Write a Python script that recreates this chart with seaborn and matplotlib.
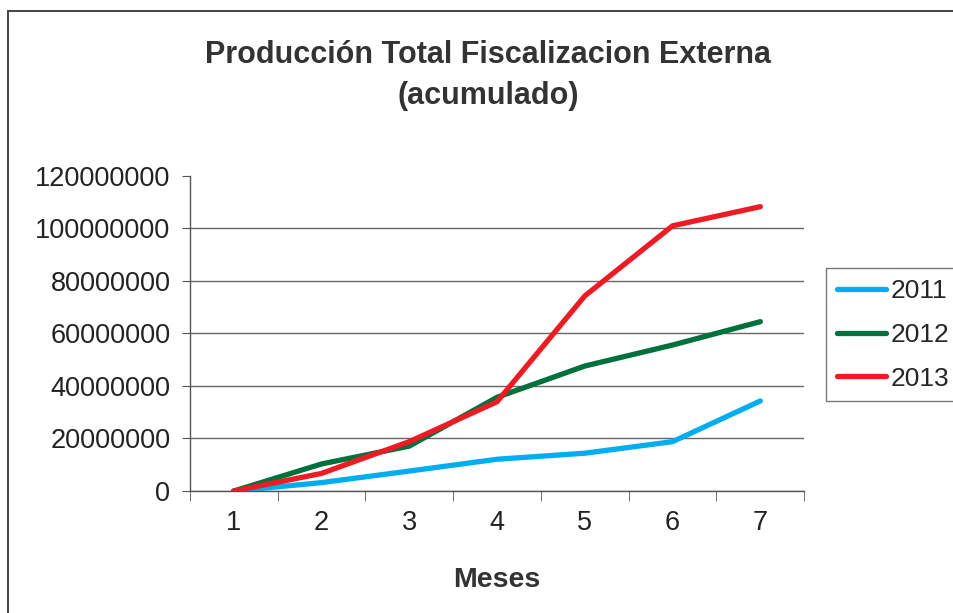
import pandas as pd
import seaborn as sns
import matplotlib.pyplot as plt
from matplotlib.patches import Rectangle

# Datos (acumulado por mes)
meses = [1, 2, 3, 4, 5, 6, 7]
prod_2011 = [0, 3200000, 7600000, 12100000, 14400000, 18800000, 34300000]
prod_2012 = [0, 10300000, 17100000, 35700000, 47600000, 55600000, 64500000]
prod_2013 = [0, 6700000, 18800000, 34000000, 74300000, 101000000, 108300000]
anios = ['2011', '2012', '2013']
colores = ['#00AEEF', '#00703C', '#ED1C24']
yticks = [0, 20000000, 40000000, 60000000, 80000000, 100000000, 120000000]

df = pd.DataFrame({
    'Meses': meses * 3,
    'Valor': prod_2011 + prod_2012 + prod_2013,
    'Anio': [a for a in anios for _ in meses],
})

sns.set_style('white')
plt.rcParams['font.family'] = ['Liberation Sans', 'DejaVu Sans']

fig = plt.figure(figsize=(9.54, 6.13), dpi=100)
ax = fig.add_axes([0.199, 0.199, 0.644, 0.514])

sns.lineplot(data=df, x='Meses', y='Valor', hue='Anio', palette=colores,
             linewidth=3.8, ax=ax, legend=False, solid_capstyle='round')

ax.set_xlim(0.5, 7.5)
ax.set_ylim(0, 120000000)
ax.set_yticks(yticks)
ax.set_yticklabels([str(v) for v in yticks], fontsize=19.5, color='#222222')
ax.set_xticks(meses)
ax.set_xticklabels([str(m) for m in meses], fontsize=19.5, color='#222222')
ax.set_xticks([m + 0.5 for m in [0] + meses], minor=True)
ax.tick_params(axis='x', which='major', length=0, pad=14)
ax.tick_params(axis='x', which='minor', length=7, color='#555555', direction='out', bottom=True)
ax.tick_params(axis='y', length=6, color='#555555', direction='out', left=True, pad=8)
ax.yaxis.grid(True, color='#666666', linewidth=1)
ax.get_ygridlines()[-1].set_visible(False)
ax.set_axisbelow(True)
for s in ['top', 'right']:
    ax.spines[s].set_visible(False)
for s in ['left', 'bottom']:
    ax.spines[s].set_color('#555555')
    ax.spines[s].set_linewidth(1)

ax.set_xlabel('Meses', fontsize=20.5, fontweight='bold', labelpad=22, color='#333333')
ax.set_ylabel('')

fig.text(0.512, 0.911, 'Producción Total Fiscalizacion Externa', ha='center', va='center',
         fontsize=22, fontweight='bold', color='#333333')
fig.text(0.512, 0.843, '(acumulado)', ha='center', va='center',
         fontsize=22, fontweight='bold', color='#333333')

# Leyenda
handles = [plt.Line2D([0], [0], color=c, linewidth=3.8, solid_capstyle='round') for c in colores]
leg = fig.legend(handles, anios, loc='upper left', bbox_to_anchor=(0.866, 0.562),
                 fontsize=19, frameon=True, fancybox=False, handlelength=1.85,
                 handletextpad=0.2, labelspacing=0.75, borderpad=0.4, borderaxespad=0)
leg.get_frame().set_edgecolor('#555555')
leg.get_frame().set_linewidth(1)

# Marco del grafico
fig.patches.append(Rectangle((8 / 954, -0.01), 1.0, 1 - 11 / 613 + 0.01, transform=fig.transFigure,
                             fill=False, edgecolor='#444444', linewidth=1.4))

fig.savefig('out.png', dpi=100)
